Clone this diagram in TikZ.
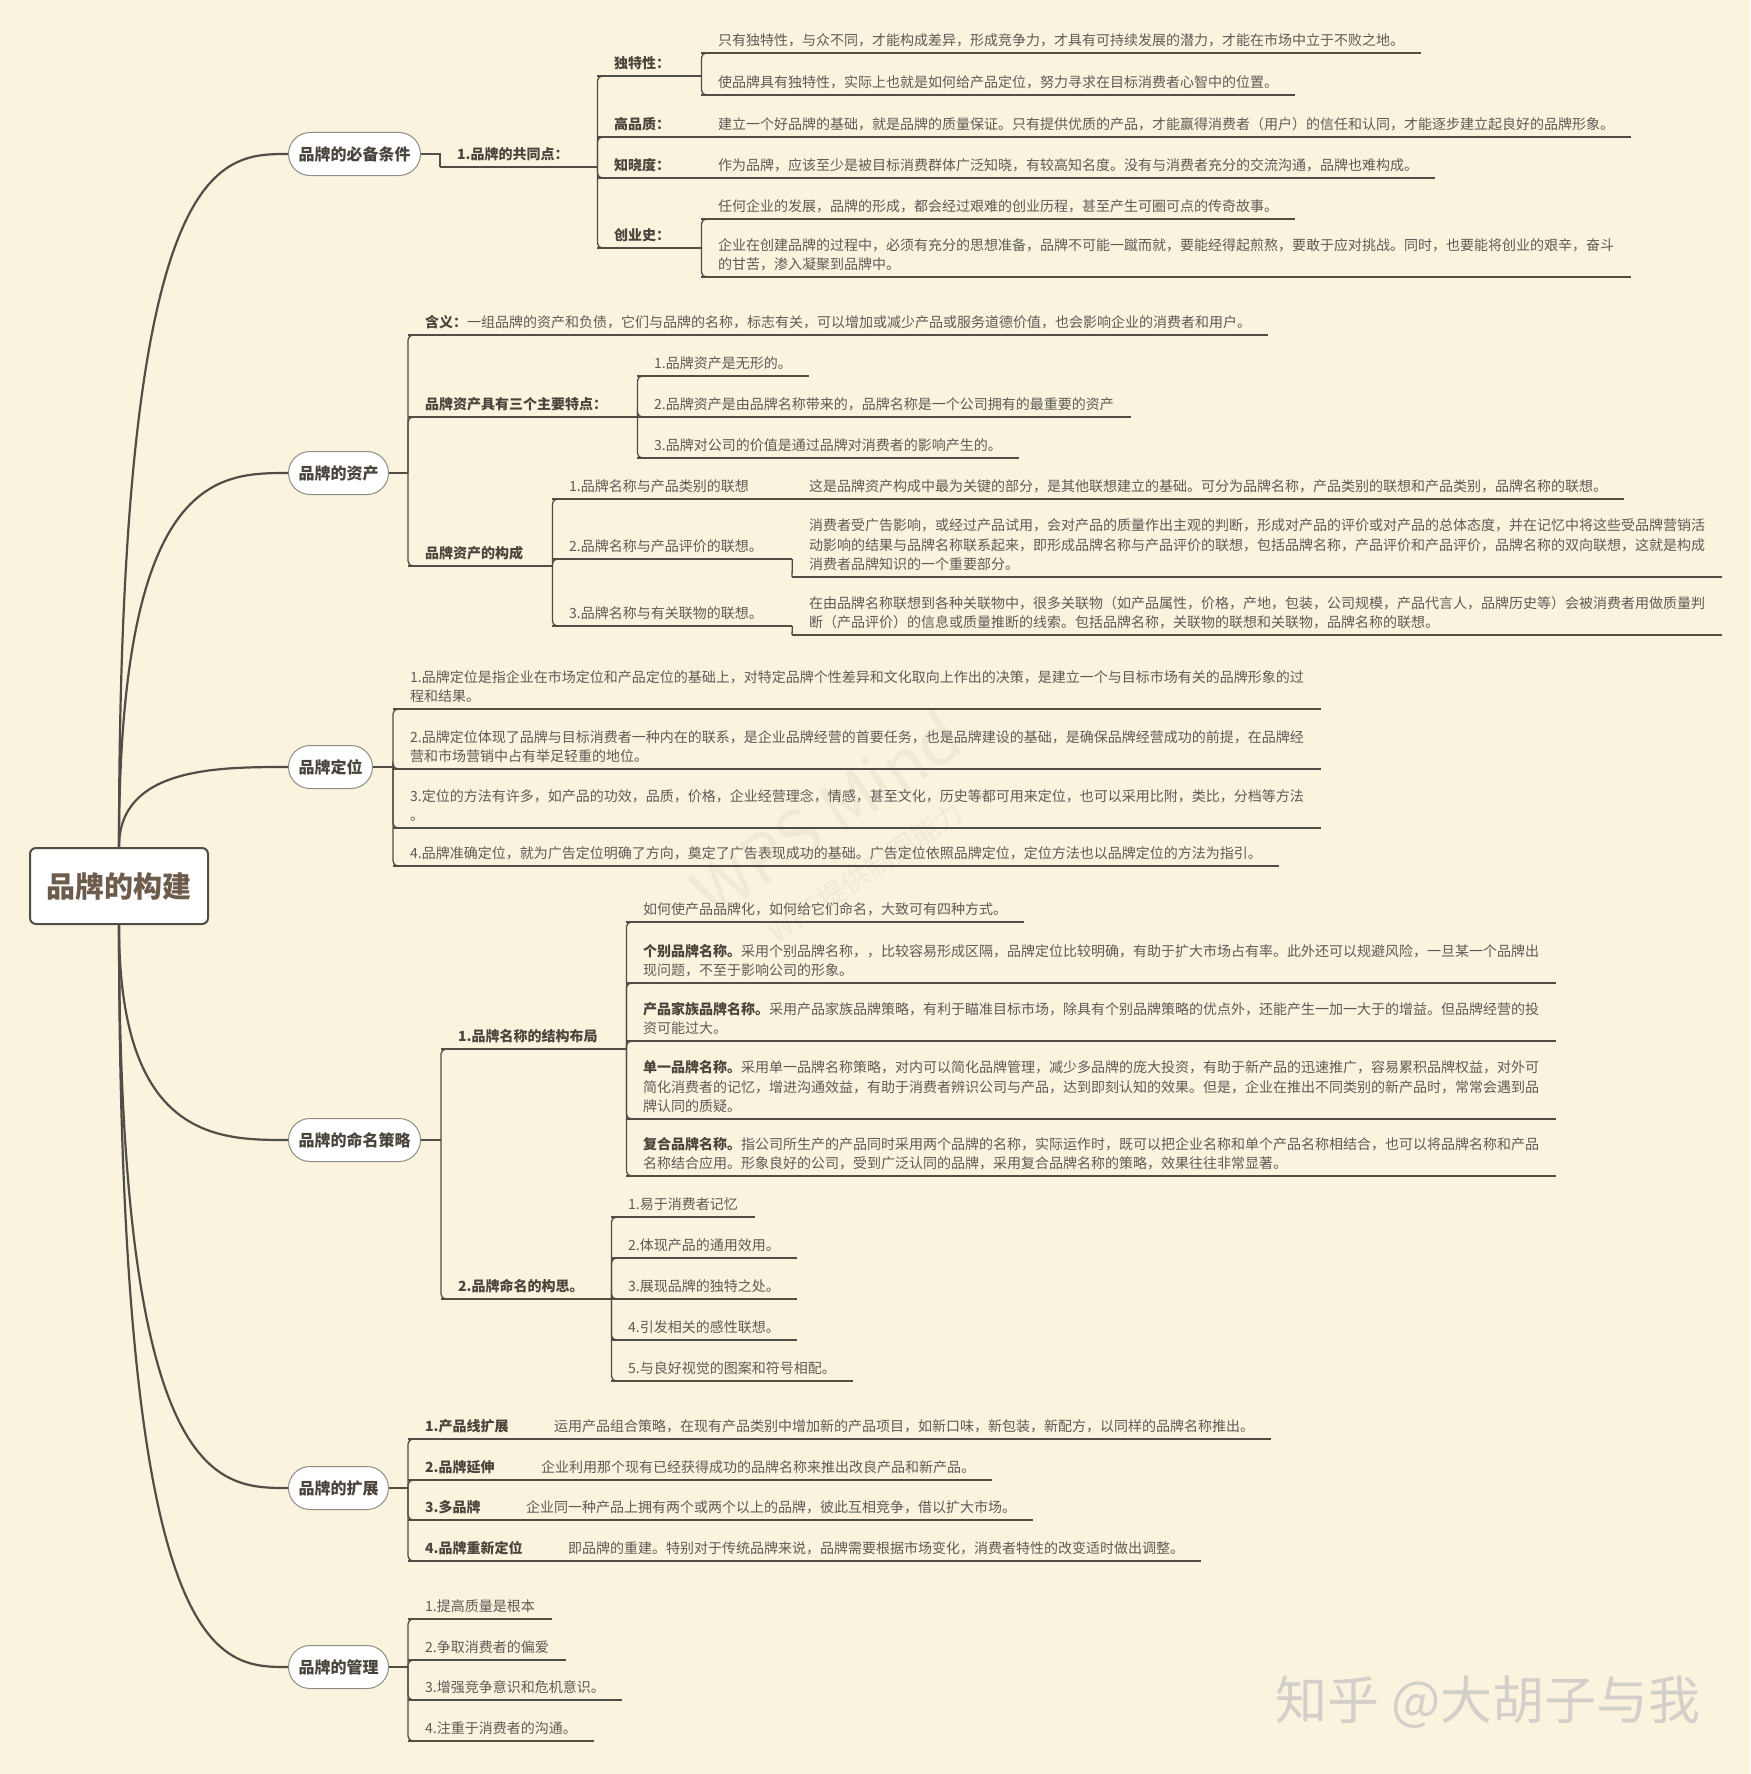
\documentclass[tikz,border=0pt]{standalone}
\usepackage{fontspec}
\setmainfont{Noto Sans CJK SC}
\usetikzlibrary{calc}
\definecolor{paper}{HTML}{FAF3DD}
\definecolor{ink}{HTML}{4F4E47}
\definecolor{bodytxt}{HTML}{5E5B57}
\definecolor{labtxt}{HTML}{4A443C}
\definecolor{roottxt}{HTML}{6D5B4B}
\definecolor{pillline}{HTML}{8E8C86}
\definecolor{wmark}{HTML}{D3D0CB}
\definecolor{wpsmark}{HTML}{F0E9D5}
\newcommand{\txtsize}{\fontsize{14}{19.5}\selectfont}
\newcommand{\keyterm}[1]{{\bfseries\color{labtxt}#1}}
\newcommand{\elbow}[2]{\draw[link, rounded corners=5pt] (#1) |- ($(#2.south west)+(12,0)$);}
\tikzset{
  topic/.style   = {anchor=south west, inner xsep=17pt, inner ysep=0pt, align=left,
                    font=\txtsize, text=bodytxt, execute at end node={\rule[-7pt]{0pt}{7pt}}},
  fixw/.style    = {topic, text width=#1},
  lbl/.style     = {fixw=#1, font=\txtsize\bfseries, text=labtxt},
  branch/.style  = {rectangle, rounded corners=21.5pt, draw=pillline, fill=white, line width=1pt,
                    minimum height=43pt, inner xsep=10pt, anchor=west,
                    font=\fontsize{16}{16}\selectfont\bfseries, text=labtxt},
  rootbox/.style = {rectangle, rounded corners=6pt, draw=ink, fill=white, line width=2pt,
                    minimum width=178pt, minimum height=76pt,
                    font=\fontsize{29}{29}\selectfont\bfseries, text=roottxt},
  trunk/.style   = {draw=ink, line width=2.2pt},
  link/.style    = {draw=ink, line width=1.3pt},
}

\begin{document}
\begin{tikzpicture}[x=1pt, y=-1pt]

  \fill[paper] (0,0) rectangle (1750,1774);

  %% watermarks
  \node[rotate=34, font=\fontsize{66}{66}\selectfont, text=wpsmark] (wps) at (826,814) {WPS Mind};
  \node[rotate=34, font=\fontsize{28}{28}\selectfont, text=wpsmark] (wpsnote) at (866,872) {WPS提供制图能力};
  \node[anchor=west, font=\fontsize{52}{52}\selectfont, text=wmark] (zhihu) at (1272,1702) {知乎 @大胡子与我};

  %% root and main branches
  \node[rootbox] (root) at (119,886) {品牌的构建};
  \node[branch] (bcond)  at (288,154)  {品牌的必备条件};
  \node[branch] (basset) at (288,473)  {品牌的资产};
  \node[branch] (bpos)   at (288,767)  {品牌定位};
  \node[branch] (bname)  at (288,1140) {品牌的命名策略};
  \node[branch] (bext)   at (288,1488) {品牌的扩展};
  \node[branch] (bmgmt)  at (288,1667) {品牌的管理};

  \foreach \b in {bcond,basset,bpos}
    \draw[trunk] (root.north) .. controls (root.north |- \b.west) and ($(\b.west)+(-70,0)$) .. (\b.west);
  \foreach \b in {bname,bext,bmgmt}
    \draw[trunk] (root.south) .. controls (root.south |- \b.west) and ($(\b.west)+(-70,0)$) .. (\b.west);

  %% ---------------- 品牌的必备条件 ----------------
  \node[lbl=123pt] (common) at (440,167) {1.品牌的共同点：};
  \node[lbl=70pt] (uniq) at (597,76) {独特性：};
  \node[topic] (uniqa) at (701,53) {只有独特性，与众不同，才能构成差异，形成竞争力，才具有可持续发展的潜力，才能在市场中立于不败之地。};
  \node[topic] (uniqb) at (701,95) {使品牌具有独特性，实际上也就是如何给产品定位，努力寻求在目标消费者心智中的位置。};
  \node[lbl=70pt] (qual) at (597,137) {高品质：};
  \node[topic] (quala) at (701,137) {建立一个好品牌的基础，就是品牌的质量保证。只有提供优质的产品，才能赢得消费者（用户）的信任和认同，才能逐步建立起良好的品牌形象。};
  \node[lbl=70pt] (aware) at (597,178) {知晓度：};
  \node[topic] (awarea) at (701,178) {作为品牌，应该至少是被目标消费群体广泛知晓，有较高知名度。没有与消费者充分的交流沟通，品牌也难构成。};
  \node[lbl=70pt] (hist) at (597,248) {创业史：};
  \node[topic] (hista) at (701,219) {任何企业的发展，品牌的形成，都会经过艰难的创业历程，甚至产生可圈可点的传奇故事。};
  \node[topic] (histb) at (701,277) {企业在创建品牌的过程中，必须有充分的思想准备，品牌不可能一蹴而就，要能经得起煎熬，要敢于应对挑战。同时，也要能将创业的艰辛，奋斗\\的甘苦，渗入凝聚到品牌中。};

  \draw[link] (bcond.east) -| (common.south west);
  \foreach \c in {uniq,qual,aware,hist} \elbow{common.south east}{\c};
  \foreach \c in {uniqa,uniqb} \elbow{uniq.south east}{\c};
  \foreach \c in {hista,histb} \elbow{hist.south east}{\c};

  %% ---------------- 品牌的资产 ----------------
  \coordinate (jasset) at ($(basset.east)+(19,0)$);
  \node[topic] (meaning) at (408,335) {\keyterm{含义：}一组品牌的资产和负债，它们与品牌的名称，标志有关，可以增加或减少产品或服务道德价值，也会影响企业的消费者和用户。};
  \node[lbl=195pt] (feat) at (408,417) {品牌资产具有三个主要特点：};
  \node[topic] (feata) at (637,376) {1.品牌资产是无形的。};
  \node[topic] (featb) at (637,417) {2.品牌资产是由品牌名称带来的，品牌名称是一个公司拥有的最重要的资产};
  \node[topic] (featc) at (637,458) {3.品牌对公司的价值是通过品牌对消费者的影响产生的。};
  \node[lbl=110pt] (comp) at (408,566) {品牌资产的构成};
  \node[fixw=206pt] (compa) at (552,499) {1.品牌名称与产品类别的联想};
  \node[topic] (compax) at (792,499) {这是品牌资产构成中最为关键的部分，是其他联想建立的基础。可分为品牌名称，产品类别的联想和产品类别，品牌名称的联想。};
  \node[fixw=206pt] (compb) at (552,559) {2.品牌名称与产品评价的联想。};
  \node[topic] (compbx) at (792,577) {消费者受广告影响，或经过产品试用，会对产品的质量作出主观的判断，形成对产品的评价或对产品的总体态度，并在记忆中将这些受品牌营销活\\动影响的结果与品牌名称联系起来，即形成品牌名称与产品评价的联想，包括品牌名称，产品评价和产品评价，品牌名称的双向联想，这就是构成\\消费者品牌知识的一个重要部分。};
  \node[fixw=206pt] (compc) at (552,626) {3.品牌名称与有关联物的联想。};
  \node[topic] (compcx) at (792,635) {在由品牌名称联想到各种关联物中，很多关联物（如产品属性，价格，产地，包装，公司规模，产品代言人，品牌历史等）会被消费者用做质量判\\断（产品评价）的信息或质量推断的线索。包括品牌名称，关联物的联想和关联物，品牌名称的联想。};

  \draw[link] (basset.east) -- (jasset);
  \foreach \c in {meaning,feat,comp} \elbow{jasset}{\c};
  \foreach \c in {feata,featb,featc} \elbow{feat.south east}{\c};
  \foreach \c in {compa,compb,compc} \elbow{comp.south east}{\c};
  \draw[link] (compb.south east) -- (compbx.south west);
  \draw[link] (compc.south east) -- (compcx.south west);

  %% ---------------- 品牌定位 ----------------
  \coordinate (jpos) at ($(bpos.east)+(20,0)$);
  \node[topic] (posa) at (393,709) {1.品牌定位是指企业在市场定位和产品定位的基础上，对特定品牌个性差异和文化取向上作出的决策，是建立一个与目标市场有关的品牌形象的过\\程和结果。};
  \node[topic] (posb) at (393,769) {2.品牌定位体现了品牌与目标消费者一种内在的联系，是企业品牌经营的首要任务，也是品牌建设的基础，是确保品牌经营成功的前提，在品牌经\\营和市场营销中占有举足轻重的地位。};
  \node[topic] (posc) at (393,828) {3.定位的方法有许多，如产品的功效，品质，价格，企业经营理念，情感，甚至文化，历史等都可用来定位，也可以采用比附，类比，分档等方法\\。};
  \node[topic] (posd) at (393,866) {4.品牌准确定位，就为广告定位明确了方向，奠定了广告表现成功的基础。广告定位依照品牌定位，定位方法也以品牌定位的方法为指引。};

  \draw[link] (bpos.east) -- (jpos);
  \foreach \c in {posa,posb,posc,posd} \elbow{jpos}{\c};

  %% ---------------- 品牌的命名策略 ----------------
  \coordinate (jname) at ($(bname.east)+(20,0)$);
  \node[lbl=151pt] (struct) at (441,1049) {1.品牌名称的结构布局};
  \node[topic] (structa) at (626,922) {如何使产品品牌化，如何给它们命名，大致可有四种方式。};
  \node[topic] (structb) at (626,983) {\keyterm{个别品牌名称。}采用个别品牌名称，，比较容易形成区隔，品牌定位比较明确，有助于扩大市场占有率。此外还可以规避风险，一旦某一个品牌出\\现问题，不至于影响公司的形象。};
  \node[topic] (structc) at (626,1041) {\keyterm{产品家族品牌名称。}采用产品家族品牌策略，有利于瞄准目标市场，除具有个别品牌策略的优点外，还能产生一加一大于的增益。但品牌经营的投\\资可能过大。};
  \node[topic] (structd) at (626,1119) {\keyterm{单一品牌名称。}采用单一品牌名称策略，对内可以简化品牌管理，减少多品牌的庞大投资，有助于新产品的迅速推广，容易累积品牌权益，对外可\\简化消费者的记忆，增进沟通效益，有助于消费者辨识公司与产品，达到即刻认知的效果。但是，企业在推出不同类别的新产品时，常常会遇到品\\牌认同的质疑。};
  \node[topic] (structe) at (626,1176) {\keyterm{复合品牌名称。}指公司所生产的产品同时采用两个品牌的名称，实际运作时，既可以把企业名称和单个产品名称相结合，也可以将品牌名称和产品\\名称结合应用。形象良好的公司，受到广泛认同的品牌，采用复合品牌名称的策略，效果往往非常显著。};
  \node[lbl=136pt] (idea) at (441,1299) {2.品牌命名的构思。};
  \node[topic] (ideaa) at (611,1217) {1.易于消费者记忆};
  \node[topic] (ideab) at (611,1258) {2.体现产品的通用效用。};
  \node[topic] (ideac) at (611,1299) {3.展现品牌的独特之处。};
  \node[topic] (idead) at (611,1340) {4.引发相关的感性联想。};
  \node[topic] (ideae) at (611,1381) {5.与良好视觉的图案和符号相配。};

  \draw[link] (bname.east) -- (jname);
  \foreach \c in {struct,idea} \elbow{jname}{\c};
  \foreach \c in {structa,structb,structc,structd,structe} \elbow{struct.south east}{\c};
  \foreach \c in {ideaa,ideab,ideac,idead,ideae} \elbow{idea.south east}{\c};

  %% ---------------- 品牌的扩展 ----------------
  \coordinate (jext) at ($(bext.east)+(19,0)$);
  \node[lbl=95pt] (exta) at (408,1439) {1.产品线扩展};
  \node[topic] (extax) at (537,1439) {运用产品组合策略，在现有产品类别中增加新的产品项目，如新口味，新包装，新配方，以同样的品牌名称推出。};
  \node[lbl=82pt] (extb) at (408,1480) {2.品牌延伸};
  \node[topic] (extbx) at (524,1480) {企业利用那个现有已经获得成功的品牌名称来推出改良产品和新产品。};
  \node[lbl=67pt] (extc) at (408,1520) {3.多品牌};
  \node[topic] (extcx) at (509,1520) {企业同一种产品上拥有两个或两个以上的品牌，彼此互相竞争，借以扩大市场。};
  \node[lbl=109pt] (extd) at (408,1561) {4.品牌重新定位};
  \node[topic] (extdx) at (551,1561) {即品牌的重建。特别对于传统品牌来说，品牌需要根据市场变化，消费者特性的改变适时做出调整。};

  \draw[link] (bext.east) -- (jext);
  \foreach \c in {exta,extb,extc,extd} \elbow{jext}{\c};

  %% ---------------- 品牌的管理 ----------------
  \coordinate (jmgmt) at ($(bmgmt.east)+(19,0)$);
  \node[topic] (mgmta) at (408,1619) {1.提高质量是根本};
  \node[topic] (mgmtb) at (408,1660) {2.争取消费者的偏爱};
  \node[topic] (mgmtc) at (408,1700) {3.增强竞争意识和危机意识。};
  \node[topic] (mgmtd) at (408,1741) {4.注重于消费者的沟通。};

  \draw[link] (bmgmt.east) -- (jmgmt);
  \foreach \c in {mgmta,mgmtb,mgmtc,mgmtd} \elbow{jmgmt}{\c};

  %% underlines
  \foreach \n in {common,uniq,uniqa,uniqb,qual,quala,aware,awarea,hist,hista,histb,
                  meaning,feat,feata,featb,featc,comp,compa,compax,compb,compbx,compc,compcx,
                  posa,posb,posc,posd,
                  struct,structa,structb,structc,structd,structe,idea,ideaa,ideab,ideac,idead,ideae,
                  exta,extax,extb,extbx,extc,extcx,extd,extdx,
                  mgmta,mgmtb,mgmtc,mgmtd}
    \draw[link] (\n.south west) -- (\n.south east);
\end{tikzpicture}
\end{document}
